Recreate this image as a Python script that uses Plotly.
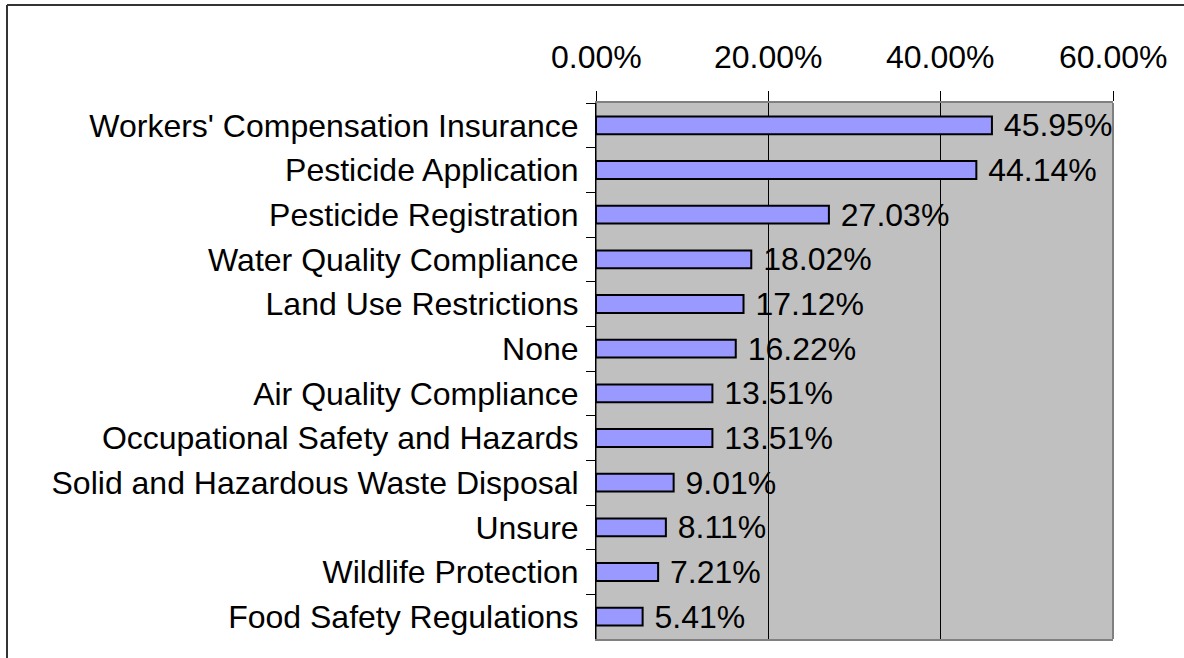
import plotly.graph_objects as go

categories = [
    "Workers' Compensation Insurance",
    "Pesticide Application",
    "Pesticide Registration",
    "Water Quality Compliance",
    "Land Use Restrictions",
    "None",
    "Air Quality Compliance",
    "Occupational Safety and Hazards",
    "Solid and Hazardous Waste Disposal",
    "Unsure",
    "Wildlife Protection",
    "Food Safety Regulations",
]
values = [0.4595, 0.4414, 0.2703, 0.1802, 0.1712, 0.1622, 0.1351, 0.1351, 0.0901, 0.0811, 0.0721, 0.0541]
x_ticks = [0, 0.2, 0.4, 0.6]
x_tick_labels = ["0.00%", "20.00%", "40.00%", "60.00%"]

FONT = "Liberation Sans, Arial, sans-serif"
FS = 32

W, H = 1184, 658
L, R, T, B = 596, 71, 103, 19
PW, PH = W - L - R, H - T - B

fig = go.Figure(
    go.Bar(
        x=values,
        y=categories,
        orientation="h",
        marker=dict(color="#9999FF", line=dict(color="black", width=2)),
        texttemplate=" %{x:.2%}",
        textposition="outside",
        constraintext="none",
        textfont=dict(family=FONT, size=FS, color="black"),
        cliponaxis=False,
        width=0.4,
    )
)

annotations = [
    dict(x=v, y=1, xref="x", yref="paper", text=t, showarrow=False,
         xanchor="center", yanchor="middle", yshift=46,
         font=dict(family=FONT, size=FS, color="black"))
    for v, t in zip(x_ticks, x_tick_labels)
]

fig.update_layout(
    width=W,
    height=H,
    margin=dict(l=L, r=R, t=T, b=B, autoexpand=False),
    paper_bgcolor="white",
    plot_bgcolor="#C0C0C0",
    showlegend=False,
    font=dict(family=FONT, size=FS, color="black"),
    xaxis=dict(
        side="top",
        range=[0, 0.6],
        tickvals=x_ticks,
        ticktext=x_tick_labels,
        showticklabels=False,
        ticks="outside",
        ticklen=10,
        tickcolor="black",
        showgrid=True,
        gridcolor="black",
        gridwidth=1,
        zeroline=False,
        showline=True,
        linecolor="#808080",
        linewidth=2,
        mirror=True,
    ),
    yaxis=dict(
        autorange="reversed",
        ticks="outside",
        tickson="boundaries",
        ticklen=9,
        tickcolor="black",
        showline=True,
        linecolor="black",
        linewidth=1,
        showgrid=False,
        ticklabelstandoff=10,
        tickfont=dict(family=FONT, size=FS, color="black"),
    ),
    annotations=annotations,
    shapes=[
        dict(type="line", xref="paper", yref="paper", x0=1, x1=1, y0=0, y1=1,
             line=dict(color="#808080", width=2), layer="above"),
        dict(type="line", xref="paper", yref="paper", x0=0, x1=0, y0=0, y1=1,
             line=dict(color="black", width=1), layer="above"),
        dict(type="line", xref="paper", yref="paper",
             x0=-(L - 7) / PW, x1=1 + R / PW, y0=1 + (T - 5) / PH, y1=1 + (T - 5) / PH,
             line=dict(color="#333333", width=2), layer="above"),
        dict(type="line", xref="paper", yref="paper",
             x0=-(L - 7) / PW, x1=-(L - 7) / PW, y0=1 + (T - 5) / PH, y1=-B / PH,
             line=dict(color="#333333", width=2), layer="above"),
    ],
)

fig.write_html("out.html", config={"displayModeBar": False},
               post_script="document.body.style.margin='0';")
